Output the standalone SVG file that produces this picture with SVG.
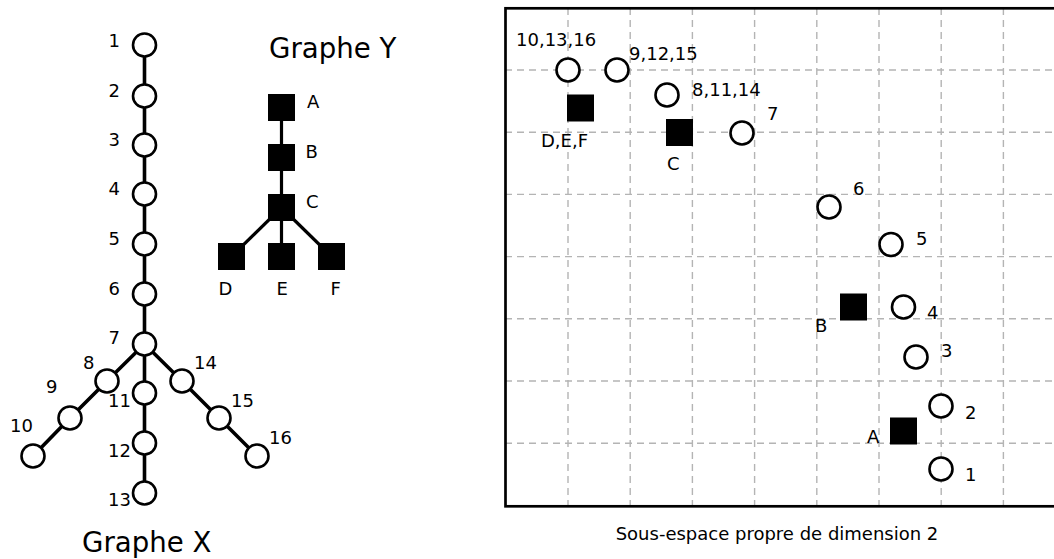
<svg xmlns="http://www.w3.org/2000/svg" width="1054" height="559" viewBox="0 0 1054 559">
<style>
text{font-family:"DejaVu Sans","Liberation Sans",sans-serif;font-size:18px;fill:#000}
.t{font-size:27.6px}
.c{fill:#fff;stroke:#000;stroke-width:2.6}
.s{fill:#000}
.ex{stroke:#000;stroke-width:3.6;fill:none}
.ey{stroke:#000;stroke-width:3.2;fill:none}
.g{stroke:#b4b4b4;stroke-width:1.4;stroke-dasharray:7,5;fill:none}
.e{text-anchor:end}
</style>
<rect width="1054" height="559" fill="#fff"/>
<g id="graphX-edges" class="ex">
<line x1="144.5" y1="45" x2="144.5" y2="344"/>
<line x1="144.5" y1="344" x2="144.5" y2="493"/>
<polyline points="33,456 70,418 107,381 144.5,344 182,381 219,418 257,456"/>
</g>
<g id="graphY-edges" class="ey">
<line x1="281.5" y1="107.5" x2="281.5" y2="256.5"/>
<line x1="281.5" y1="207.5" x2="231.5" y2="256.5"/>
<line x1="281.5" y1="207.5" x2="331.5" y2="256.5"/>
</g>
<g id="graphX">
<g id="x1"><circle class="c" cx="144.5" cy="45" r="11.5"/><text class="e" x="120" y="46.5">1</text></g>
<g id="x2"><circle class="c" cx="144.5" cy="96" r="11.5"/><text class="e" x="120" y="97">2</text></g>
<g id="x3"><circle class="c" cx="144.5" cy="145" r="11.5"/><text class="e" x="120" y="146">3</text></g>
<g id="x4"><circle class="c" cx="144.5" cy="194" r="11.5"/><text class="e" x="120" y="195">4</text></g>
<g id="x5"><circle class="c" cx="144.5" cy="244" r="11.5"/><text class="e" x="120" y="245">5</text></g>
<g id="x6"><circle class="c" cx="144.5" cy="294" r="11.5"/><text class="e" x="120" y="295">6</text></g>
<g id="x7"><circle class="c" cx="144.5" cy="344" r="11.5"/><text class="e" x="120" y="344">7</text></g>
<g id="x8"><circle class="c" cx="107" cy="381" r="11.5"/><text class="e" x="94.5" y="369">8</text></g>
<g id="x9"><circle class="c" cx="70" cy="418" r="11.5"/><text class="e" x="57.5" y="393">9</text></g>
<g id="x10"><circle class="c" cx="33" cy="456" r="11.5"/><text class="e" x="33" y="432">10</text></g>
<g id="x11"><circle class="c" cx="144.5" cy="393" r="11.5"/><text class="e" x="131" y="407">11</text></g>
<g id="x12"><circle class="c" cx="144.5" cy="443" r="11.5"/><text class="e" x="131" y="457">12</text></g>
<g id="x13"><circle class="c" cx="144.5" cy="493" r="11.5"/><text class="e" x="131" y="506">13</text></g>
<g id="x14"><circle class="c" cx="182" cy="381" r="11.5"/><text x="194" y="369">14</text></g>
<g id="x15"><circle class="c" cx="219" cy="418" r="11.5"/><text x="231" y="407">15</text></g>
<g id="x16"><circle class="c" cx="257" cy="456" r="11.5"/><text x="269" y="444">16</text></g>
<text class="t" x="82" y="552">Graphe X</text>
</g>
<g id="graphY">
<text class="t" x="269" y="57.5">Graphe Y</text>
<g id="yA"><rect class="s" x="268" y="94" width="27" height="27"/><text x="307" y="108">A</text></g>
<g id="yB"><rect class="s" x="268" y="144" width="27" height="27"/><text x="305.5" y="158">B</text></g>
<g id="yC"><rect class="s" x="268" y="194" width="27" height="27"/><text x="306" y="208">C</text></g>
<g id="yD"><rect class="s" x="218" y="243" width="27" height="27"/><text x="218.5" y="295">D</text></g>
<g id="yE"><rect class="s" x="268" y="243" width="27" height="27"/><text x="276.5" y="295">E</text></g>
<g id="yF"><rect class="s" x="318" y="243" width="27" height="27"/><text x="330.5" y="295">F</text></g>
</g>
<g id="plot">
<g id="grid" class="g">
<path d="M568,8V506M630.2,8V506M692.4,8V506M754.6,8V506M816.8,8V506M879,8V506M941.2,8V506M1003.4,8V506"/>
<path d="M505,70H1054M505,132.2H1054M505,194.4H1054M505,256.6H1054M505,318.8H1054M505,381H1054M505,443.2H1054"/>
</g>
<rect x="505.5" y="8.3" width="600" height="498" fill="none" stroke="#000" stroke-width="2.7"/>
<g id="p10-13-16"><circle class="c" cx="568" cy="70" r="11.5"/><text x="516" y="46">10,13,16</text></g>
<g id="p9-12-15"><circle class="c" cx="617" cy="70" r="11.5"/><text x="629" y="60">9,12,15</text></g>
<g id="p8-11-14"><circle class="c" cx="667" cy="95" r="11.5"/><text x="692" y="96">8,11,14</text></g>
<g id="p7"><circle class="c" cx="742" cy="133" r="11.5"/><text x="767" y="120">7</text></g>
<g id="pDEF"><rect class="s" x="567" y="94.5" width="27" height="27"/><text x="541" y="147">D,E,F</text></g>
<g id="pC"><rect class="s" x="666" y="119" width="27" height="27"/><text x="667" y="170">C</text></g>
<g id="p6"><circle class="c" cx="829" cy="207" r="11.5"/><text x="853" y="195">6</text></g>
<g id="p5"><circle class="c" cx="891" cy="244.5" r="11.5"/><text x="916" y="245">5</text></g>
<g id="pB"><rect class="s" x="840" y="293.5" width="27" height="27"/><text x="815" y="332">B</text></g>
<g id="p4"><circle class="c" cx="903.5" cy="307" r="11.5"/><text x="927" y="319">4</text></g>
<g id="p3"><circle class="c" cx="916" cy="357" r="11.5"/><text x="941" y="357">3</text></g>
<g id="p2"><circle class="c" cx="941" cy="406" r="11.5"/><text x="965" y="419">2</text></g>
<g id="pA"><rect class="s" x="890" y="417.5" width="27" height="27"/><text x="867" y="443">A</text></g>
<g id="p1"><circle class="c" cx="941" cy="469" r="11.5"/><text x="965" y="481">1</text></g>
<text x="777" y="540" text-anchor="middle">Sous-espace propre de dimension 2</text>
</g>
</svg>
